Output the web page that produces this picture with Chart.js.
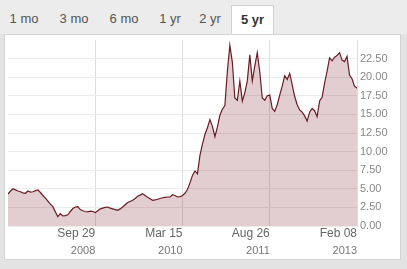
<!DOCTYPE html>
<html>
<head>
<meta charset="utf-8">
<script src="https://cdn.jsdelivr.net/npm/chart.js@4.4.1/dist/chart.umd.min.js"></script>
<style>
body{margin:0;width:407px;height:269px;background:#e3e3e3;font-family:"Liberation Sans",Arial,sans-serif;position:relative;overflow:hidden;}
.tabs{position:absolute;left:0;top:0;width:407px;height:34px;background:#ececec;}
.tab{position:absolute;top:5px;height:29px;line-height:28px;font-size:13px;color:#555;text-align:center;}
.tab.active{background:#fff;border:1px solid #d0d0d0;border-bottom:none;font-weight:bold;color:#333;height:30px;}
.panel{position:absolute;left:4px;top:34px;width:395px;height:224px;background:#fff;border:1px solid #d4d4d4;}
#chartWrap{position:absolute;left:0;top:0;width:407px;height:269px;}
</style>
</head>
<body>

<div class="tabs">
<div class="tab" style="left:0;width:48px">1 mo</div>
<div class="tab" style="left:50px;width:48px">3 mo</div>
<div class="tab" style="left:100px;width:48px">6 mo</div>
<div class="tab" style="left:150px;width:40px">1 yr</div>
<div class="tab" style="left:190px;width:40px">2 yr</div>
<div class="tab active" style="left:231px;width:41px">5 yr</div>
</div>
<div class="panel"></div>

<div id="chartWrap"><canvas id="priceChart" width="407" height="269"></canvas></div>

<script>

// price, one value per step across the 5 years
const prices = [
4.3,4.7,5.0,4.85,4.7,4.6,4.45,4.4,4.7,4.55,
4.6,4.75,4.85,4.5,4.1,3.75,3.35,2.95,2.6,1.9,
1.25,1.65,1.35,1.4,1.5,1.95,2.35,2.55,2.6,2.2,
2.05,1.95,1.9,2.0,1.95,1.8,2.05,2.3,2.4,2.5,
2.55,2.4,2.3,2.2,2.1,2.3,2.55,2.85,3.15,3.3,
3.45,3.7,4.0,4.15,4.35,4.1,3.85,3.65,3.45,3.5,
3.6,3.7,3.8,3.85,3.9,3.9,4.2,4.1,3.9,3.95,
4.1,4.4,4.9,5.8,6.8,7.4,7.0,9.5,11.0,12.3,
13.2,14.3,13.4,12.0,13.3,14.9,15.7,16.2,20.8,24.3,
22.0,17.2,16.9,19.5,16.8,17.9,19.5,23.0,19.5,21.5,
23.3,20.7,17.2,16.9,17.5,17.6,15.8,15.4,16.3,17.6,
18.8,20.2,19.7,20.5,19.0,17.4,16.3,15.6,15.3,14.8,
14.1,15.3,15.8,15.5,14.7,16.8,17.3,19.2,20.8,22.6,
22.2,22.7,22.9,23.3,22.3,22.1,22.8,20.3,19.8,18.8,
18.5
];

const tickIndex = [35, 70, 105, 140];
const dateLabels = ["Sep 29", "Mar 15", "Aug 26", "Feb 08"];
const yearLabels = ["2008", "2010", "2011", "2013"];
const yTicks = [0, 2.5, 5, 7.5, 10, 12.5, 15, 17.5, 20, 22.5];

let points = prices.map((v, i) => ({x: i, y: v}));

function setTicks(scale){
scale.ticks = tickIndex.map(v => ({value: v}));
}

const ctx = document.getElementById("priceChart").getContext("2d");
const priceChart = new Chart(ctx, {
type: "line",
data: {
datasets: [{
data: points,
borderColor: "#6a1c24",
borderWidth: 1.2,
backgroundColor: "rgba(125,30,40,0.22)",
fill: "origin",
pointRadius: 0,
tension: 0
}]
},
options: {
responsive: false,
animation: false,
layout: { padding: { left: 8, top: 40, right: 0, bottom: 0 } },
plugins: {
legend: { display: false },
tooltip: { enabled: false }
},
scales: {
x: {
type: "linear",
min: 0,
max: 140,
afterBuildTicks: setTicks,
afterFit: s => { s.height = 15; },
grid: { color: "#dddddd", drawTicks: false },
border: { display: false },
ticks: {
align: "end",
padding: 0,
maxRotation: 0,
autoSkip: false,
color: "#666",
font: { family: "Liberation Sans", size: 12 },
callback: (v) => dateLabels[tickIndex.indexOf(v)]
}
},
x2: {
type: "linear",
position: "bottom",
min: 0,
max: 140,
afterBuildTicks: setTicks,
afterFit: s => { s.height = 28; },
grid: { display: false },
border: { display: false },
ticks: {
align: "end",
padding: -5,
maxRotation: 0,
autoSkip: false,
color: "#777",
font: { family: "Liberation Sans", size: 11 },
callback: (v) => yearLabels[tickIndex.indexOf(v)]
}
},
y: {
position: "right",
min: 0,
max: 25,
afterBuildTicks: s => { s.ticks = yTicks.map(v => ({value: v})); },
afterFit: s => { s.width = 50; },
grid: { color: "#ebebeb", drawTicks: false },
border: { display: false },
ticks: {
padding: 3,
color: "#888",
font: { family: "Liberation Sans", size: 11 },
callback: v => v.toFixed(2)
}
}
}
}
});

</script>
</body>
</html>
